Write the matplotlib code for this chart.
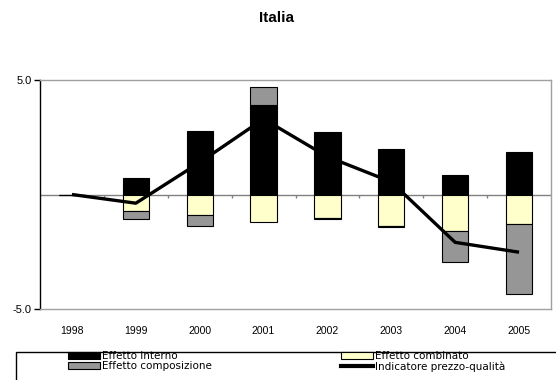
import matplotlib.pyplot as plt
import matplotlib.patches as mpatches
import matplotlib.lines as mlines
import numpy as np

years = ['1998', '1999', '2000', '2001', '2002', '2003', '2004', '2005']
interno = [0.0, 0.71, 2.78, 3.93, 2.72, 2.00, 0.86, 1.87]
combinato = [0.0, -0.71, -0.90, -1.22, -1.03, -1.39, -1.61, -1.30]
composizione = [0.0, -0.35, -0.46, 0.77, -0.06, -0.04, -1.32, -3.06]
indicatore = [0.0, -0.38, 1.40, 3.30, 1.65, 0.55, -2.09, -2.52]

plt.rcParams['font.family'] = ['Liberation Sans', 'DejaVu Sans']

fig = plt.figure(figsize=(5.56, 3.80), dpi=100)
ax = fig.add_axes([40 / 556, 1 - 309 / 380, 511 / 556, 229 / 380])

x = np.arange(len(years))
width = 0.41

# excel-style stacking: positives and negatives pile up separately
pos = np.zeros(len(years))
neg = np.zeros(len(years))
series = [(interno, 'black', 'Effetto interno'),
          (combinato, '#ffffcc', 'Effetto combinato'),
          (composizione, '#969696', 'Effetto composizione')]
for vals, col, lab in series:
    vals = np.array(vals)
    bottom = np.where(vals >= 0, pos, neg)
    ax.bar(x, vals, width, bottom=bottom, color=col,
           edgecolor='black', linewidth=0.8, zorder=2)
    pos = pos + np.where(vals >= 0, vals, 0)
    neg = neg + np.where(vals < 0, vals, 0)

ax.plot(x, indicatore, color='black', lw=2.4, zorder=3, solid_capstyle='butt')

# zero line with small category ticks
ax.axhline(0, color='#808080', lw=1, zorder=1)
ax.vlines(x[:-1] + 0.5, -0.14, 0, color='#808080', lw=1, zorder=1)

ax.set_xlim(-0.5, len(years) - 0.5)
ax.set_ylim(-5, 5)
ax.set_yticks([-5, 5])
ax.set_yticklabels(['-5.0', '5.0'], fontsize=8)
ax.tick_params(axis='y', length=4, width=1, pad=2)
ax.set_xticks(x)
ax.set_xticklabels(years, fontsize=7.5)
ax.tick_params(axis='x', length=0, pad=12)

for s in ['top', 'right', 'bottom']:
    ax.spines[s].set_color('#a0a0a0')
    ax.spines[s].set_linewidth(1)
ax.spines['left'].set_color('black')
ax.spines['left'].set_linewidth(1)

fig.text(276.7 / 556, 1 - 18 / 380, 'Italia', ha='center', va='center',
         fontsize=11, fontweight='bold')

# legend frame runs off the bottom/right of the picture
frame = mpatches.Rectangle((16 / 556, -0.1), 1.1, (380 - 351.5) / 380 + 0.1,
                           transform=fig.transFigure, facecolor='white',
                           edgecolor='black', lw=1)
fig.patches.append(frame)

handles = [mpatches.Patch(facecolor='black', edgecolor='black', lw=0.8),
           mpatches.Patch(facecolor='#969696', edgecolor='black', lw=0.8),
           mpatches.Patch(facecolor='#ffffcc', edgecolor='black', lw=0.8),
           mlines.Line2D([], [], color='black', lw=3)]
labels = ['Effetto interno', 'Effetto composizione',
          'Effetto combinato', 'Indicatore prezzo-qualità']
fig.legend(handles, labels, ncol=2, loc='upper left',
           bbox_to_anchor=(66 / 556, 1 - 349 / 380), frameon=False,
           prop={'family': 'DejaVu Sans', 'size': 7.5},
           handlelength=3.1, handleheight=0.7, handletextpad=0.15,
           labelspacing=0.0, columnspacing=12.4, borderpad=0.2,
           borderaxespad=0)

fig.savefig('out.png', dpi=100)
